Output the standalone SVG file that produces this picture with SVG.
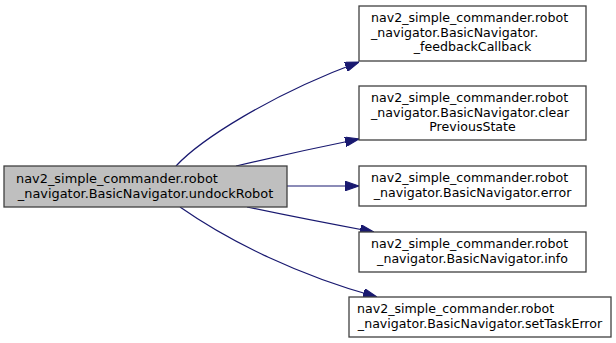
<svg xmlns="http://www.w3.org/2000/svg" width="616" height="343" viewBox="0 0 616 343">
<defs>
<style>
.box{fill:#ffffff;stroke:#404040;stroke-width:1.3}
.main{fill:#bfbfbf;stroke:#404040;stroke-width:1.3}
text{font-family:"DejaVu Sans",sans-serif;font-size:12.6px;fill:#000}
.m{font-size:12.9px}
.c{text-anchor:middle}
.edge{fill:none;stroke:#191970;stroke-width:1.2}
</style>
<marker id="arr" markerUnits="userSpaceOnUse" markerWidth="14" markerHeight="10" refX="13" refY="4.5" orient="auto" viewBox="0 0 13 9">
<path d="M0,0 L13,4.5 L0,9 z" fill="#191970" stroke="#191970" stroke-width="1"/>
</marker>
</defs>
<rect width="616" height="343" fill="#ffffff"/>
<g id="connectors">
<path class="edge" d="M176,166 C200,140 270,95 359,62" marker-end="url(#arr)"/>
<path class="edge" d="M236,166 C270,158 310,149 359,139" marker-end="url(#arr)"/>
<path class="edge" d="M287,186 L359,186" marker-end="url(#arr)"/>
<path class="edge" d="M247,207 C280,214 320,222 374,232" marker-end="url(#arr)"/>
<path class="edge" d="M180,207 C230,242 300,276 377,297" marker-end="url(#arr)"/>
</g>
<g id="node_main">
<rect class="main" x="4" y="166" width="283" height="41"/>
<text class="m" x="16" y="183">nav2_simple_commander.robot</text>
<text class="m c" x="145.5" y="198">_navigator.BasicNavigator.undockRobot</text>
</g>
<g id="node_feedbackCallback">
<rect class="box" x="359" y="6" width="227" height="55"/>
<text x="371" y="22">nav2_simple_commander.robot</text>
<text x="371" y="36.5">_navigator.BasicNavigator.</text>
<text class="c" x="472.5" y="51">_feedbackCallback</text>
</g>
<g id="node_clearPreviousState">
<rect class="box" x="359" y="86" width="227" height="54"/>
<text x="371" y="102">nav2_simple_commander.robot</text>
<text x="371" y="116.5">_navigator.BasicNavigator.clear</text>
<text class="c" x="472.5" y="131">PreviousState</text>
</g>
<g id="node_error">
<rect class="box" x="359" y="166" width="227" height="40"/>
<text x="371" y="182">nav2_simple_commander.robot</text>
<text class="c" x="472.5" y="196.5">_navigator.BasicNavigator.error</text>
</g>
<g id="node_info">
<rect class="box" x="359" y="232" width="227" height="40"/>
<text x="371" y="248">nav2_simple_commander.robot</text>
<text class="c" x="472.5" y="262.5">_navigator.BasicNavigator.info</text>
</g>
<g id="node_setTaskError">
<rect class="box" x="349" y="297" width="262" height="40"/>
<text x="357" y="313">nav2_simple_commander.robot</text>
<text class="c" x="480" y="327.5">_navigator.BasicNavigator.setTaskError</text>
</g>
</svg>
